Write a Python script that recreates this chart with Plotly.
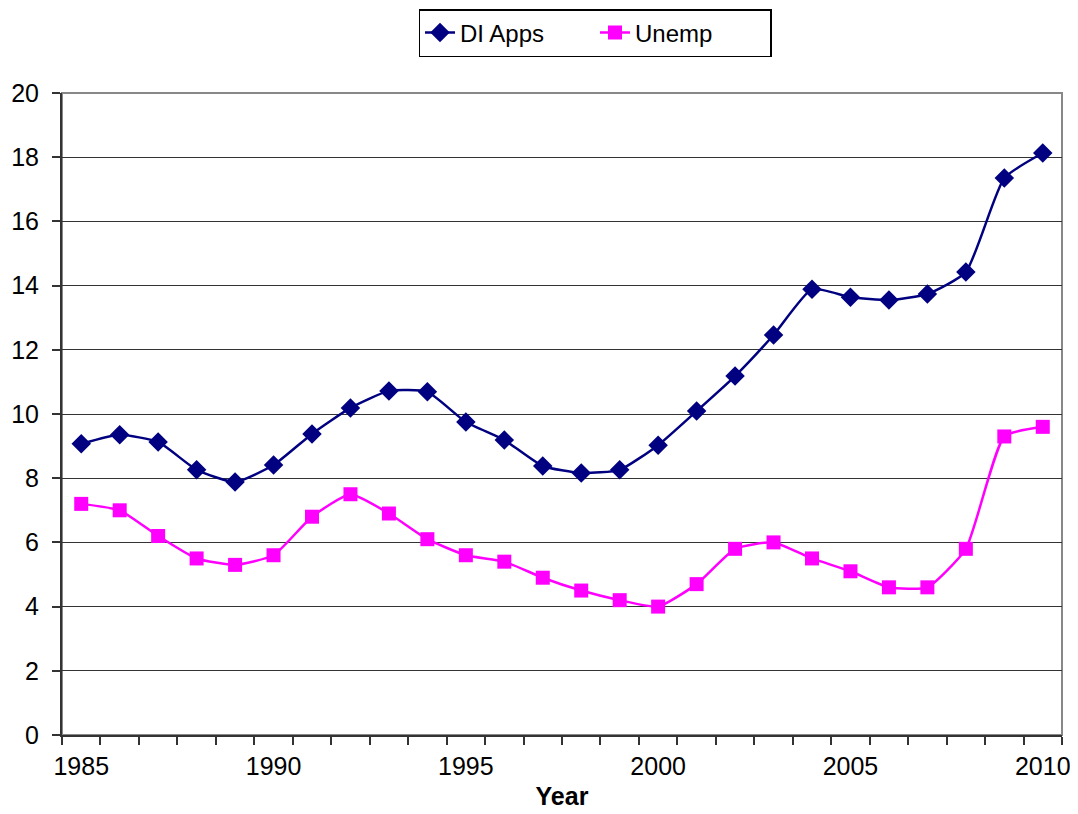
import plotly.graph_objects as go

years = list(range(1985, 2011))
di_apps = [9.07, 9.35, 9.13, 8.26, 7.88, 8.41, 9.38, 10.19, 10.72, 10.69, 9.75, 9.19, 8.38,
           8.16, 8.26, 9.03, 10.09, 11.18, 12.46, 13.89, 13.64, 13.55, 13.74, 14.42, 17.35, 18.13]
unemp = [7.2, 7.0, 6.2, 5.5, 5.3, 5.6, 6.8, 7.5, 6.9, 6.1, 5.6, 5.4, 4.9, 4.5, 4.2, 4.0, 4.7,
         5.8, 6.0, 5.5, 5.1, 4.6, 4.6, 5.8, 9.3, 9.6]
x_labels = [1985, 1990, 1995, 2000, 2005, 2010]
y_ticks = list(range(0, 21, 2))

font = "Liberation Sans, Arial, sans-serif"
W, H = 1070, 806
plot_h = H - 85 - 79

fig = go.Figure()
fig.add_trace(go.Scatter(
    x=years, y=di_apps, name="DI Apps", mode="lines+markers",
    line=dict(color="#000080", width=2.5, shape="spline", smoothing=0.5),
    marker=dict(symbol="diamond", size=15, color="#000080"),
))
fig.add_trace(go.Scatter(
    x=years, y=unemp, name="Unemp", mode="lines+markers",
    line=dict(color="#FF00FF", width=2.5, shape="spline", smoothing=0.5),
    marker=dict(symbol="square", size=14, color="#FF00FF"),
))

fig.add_shape(type="rect", xref="paper", yref="paper", x0=0, y0=0, x1=1, y1=1,
              line=dict(color="#888888", width=2), layer="below")

fig.update_layout(
    width=W, height=H,
    margin=dict(l=54, r=16, t=85, b=79, autoexpand=False),
    plot_bgcolor="white", paper_bgcolor="white",
    font=dict(family=font, size=25, color="black"),
    showlegend=True,
    legend=dict(orientation="h", xref="container", x=587 / W, xanchor="center",
                yref="paper", y=1 + 84 / plot_h, yanchor="top",
                bordercolor="black", borderwidth=1.5,
                entrywidth=130, entrywidthmode="pixels",
                font=dict(size=24), traceorder="normal"),
    xaxis=dict(
        range=[1984.5, 2010.5], tickvals=x_labels, ticks="", showgrid=False,
        showline=True, linecolor="#333333", linewidth=2, zeroline=False,
        tickfont=dict(size=25), ticklabelstandoff=8,
        minor=dict(ticks="outside", tick0=1984.5, dtick=1, ticklen=8,
                   tickcolor="#333333", tickwidth=1.5, showgrid=False),
        title=dict(text="<b>Year</b>", font=dict(size=25), standoff=8),
    ),
    yaxis=dict(
        range=[0, 20], tickvals=y_ticks, ticks="outside", ticklen=8,
        tickcolor="#333333", tickwidth=1.5, ticklabelstandoff=8,
        showgrid=True, gridcolor="#333333", gridwidth=1,
        showline=True, linecolor="#333333", linewidth=2, zeroline=False,
        tickfont=dict(size=25),
    ),
)

fig.write_html("out.html")
